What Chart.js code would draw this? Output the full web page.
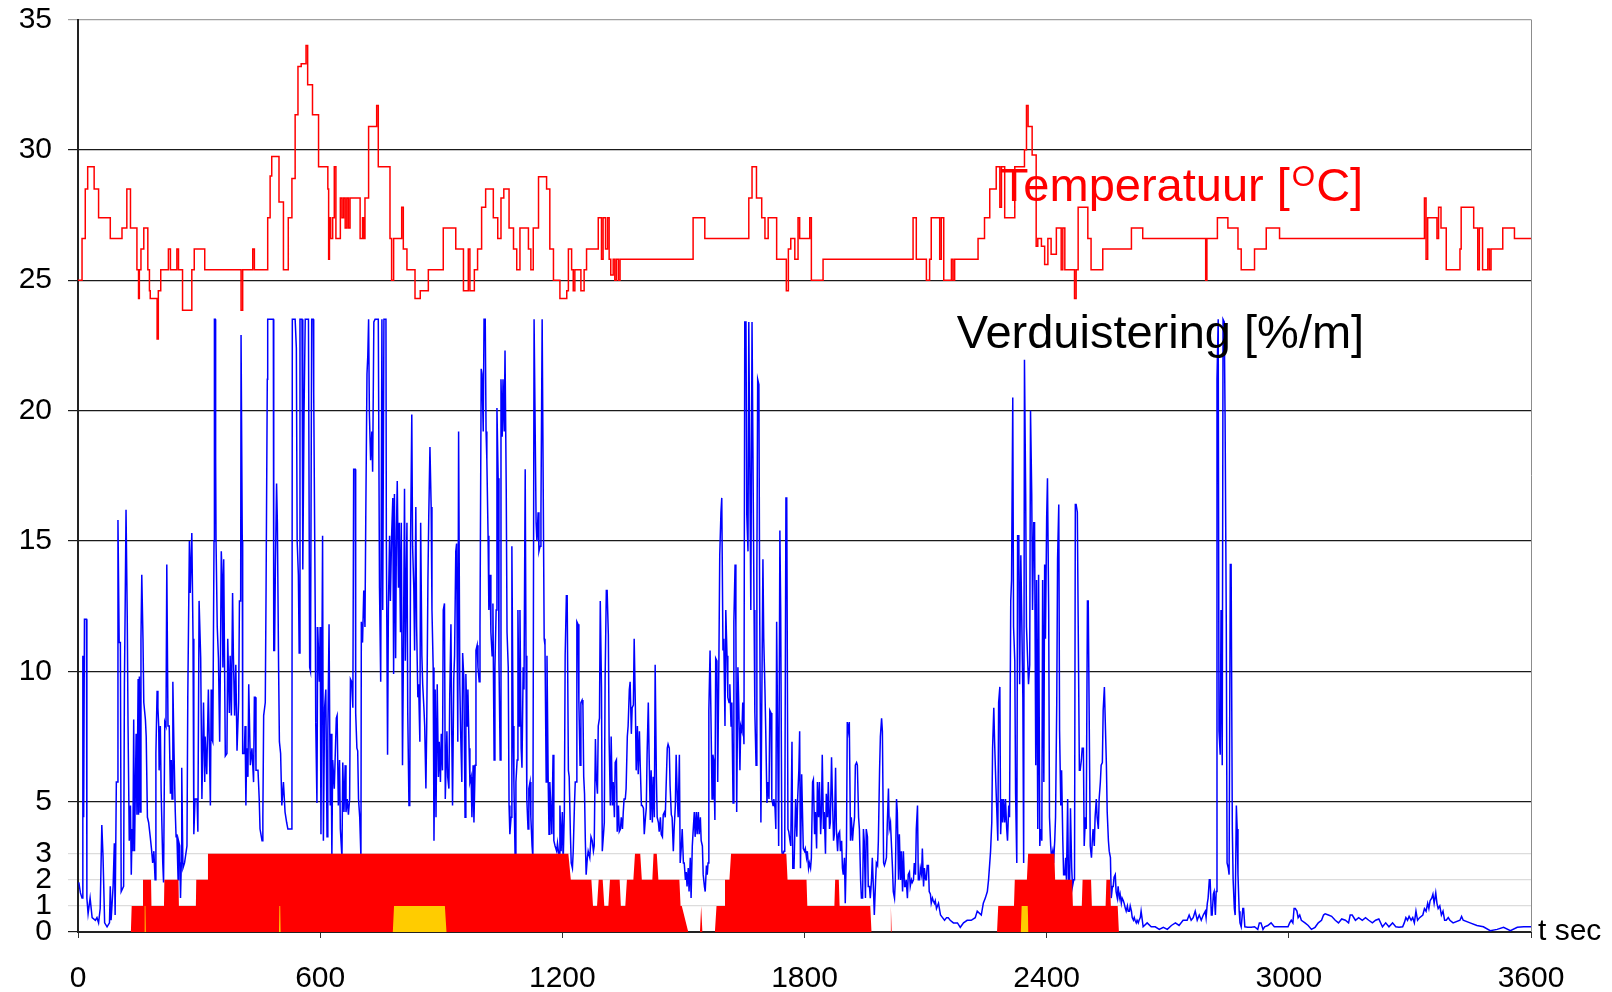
<!doctype html>
<html lang="nl">
  <head>
    <meta charset="utf-8">
    <title>Temperatuur en verduistering</title>
    <style>
      * {
        margin: 0;
        padding: 0;
      }
      body {
        background: #fff;
      }
      .chartBox {
        width: 1612px;
        height: 992px;
      }
    </style>
  </head>
  <body>
    <div class="chartBox">
      <canvas id="fireChart"></canvas>
    </div>

    <script src="https://cdn.jsdelivr.net/npm/chart.js"></script>
    <script>
    // axis ticks
    const xTicks = [0, 600, 1200, 1800, 2400, 3000, 3600];
    const yTicks = [0, 1, 2, 3, 5, 10, 15, 20, 25, 30, 35];

    // temperature [oC]: each value holds from its time until the next one
    const tempTime = [0,10,18,24,40,51,80,109,121,130,146,150,152,156,163,173,177,179,196,199,
      205,224,229,245,249,259,282,288,314,404,408,433,437,470,476,480,498,509,521,530,
      538,545,553,565,569,581,596,619,621,623,626,631,635,639,650,654,658,662,666,670,
      674,699,705,708,711,720,740,744,773,777,782,802,806,815,835,848,868,905,936,955,
      967,971,982,990,1000,1010,1029,1040,1048,1055,1068,1079,1087,1095,1116,1122,1128,1141,1161,1169,
      1178,1194,1211,1215,1223,1227,1231,1246,1254,1260,1289,1297,1301,1307,1312,1316,1320,1326,1330,1334,
      1339,1343,1524,1553,1662,1670,1681,1694,1702,1710,1731,1755,1760,1766,1776,1784,1788,1813,1817,1846,
      2069,2077,2102,2110,2114,2135,2139,2145,2164,2168,2172,2230,2246,2259,2275,2284,2288,2296,2321,2345,
      2350,2354,2364,2374,2378,2387,2395,2403,2411,2424,2436,2440,2445,2469,2473,2478,2502,2510,2539,2610,
      2638,2794,2797,2823,2849,2874,2882,2915,2944,2977,3336,3340,3344,3367,3371,3377,3390,3424,3427,3458,
      3468,3472,3480,3493,3497,3501,3530,3559,3600];
    const tempValue = [25.0,26.6,28.5,29.35,28.5,27.4,26.6,27.0,28.5,27.0,25.4,24.3,25.4,26.2,27.0,25.4,24.6,24.3,22.75,24.6,
      25.4,26.2,25.4,26.2,25.4,23.85,25.4,26.2,25.4,23.85,25.4,26.2,25.4,27.4,29.0,29.75,28.0,25.4,27.4,28.9,
      31.35,33.2,33.3,34.0,32.5,31.35,29.35,28.5,25.8,27.4,26.6,27.4,29.35,26.6,28.15,27.4,28.15,27.0,28.15,27.0,
      28.15,26.6,27.4,26.6,28.15,30.9,31.7,29.35,26.6,25.0,26.6,27.8,26.2,25.4,24.3,24.6,25.4,27.0,26.2,24.6,
      26.2,24.6,25.4,26.2,27.8,28.5,27.4,26.6,28.15,28.5,27.0,26.2,25.4,27.0,26.2,25.4,27.0,28.97,28.5,26.2,
      25.0,24.3,24.6,26.2,25.4,24.6,25.4,24.6,25.4,26.2,27.4,25.8,27.4,26.2,27.4,25.8,25.2,25.8,25.0,25.8,
      25.0,25.8,27.4,26.6,28.15,29.35,28.15,27.4,26.6,27.4,25.8,24.6,26.2,26.6,25.8,27.4,26.6,27.4,25.0,25.8,
      27.4,25.8,25.0,25.8,27.4,25.8,27.4,25.0,25.8,25.0,25.8,26.6,27.4,28.5,29.35,27.8,29.35,27.4,29.35,30.0,
      31.7,30.9,29.8,26.3,26.6,26.3,25.6,26.6,26.0,27.0,25.4,27.0,25.4,24.3,25.4,27.8,26.6,25.4,26.2,27.0,
      26.6,25.0,26.6,27.4,27.0,26.2,25.4,26.2,27.0,26.6,28.15,25.8,27.4,26.6,27.8,27.0,25.4,26.2,27.8,27.0,
      25.4,27.0,25.4,26.2,25.4,26.2,27.0,26.6,26.6];

    // obscuration [%/m], read in blocks of about ten minutes
    const obsTimeA = [2,6,10,12,14,16,21,22,25,30,
      35,43,47,51,55,59,62,66,72,78,
      80,82,87,90,92,95,98,99,102,105,
      107,113,115,117,119,122,124,127,130,132,
      134,136,138,140,144,146,149,150,152,154,
      156,158,161,163,167,169,172,175,179,182,
      185,188,191,193,196,198,200,201,204,206,
      210,212,215,218,220,223,226,229,231,233,
      235,238,241,243,245,248,249,252,254,256,
      257,260,264,270,272,276,278,282,285,287,
      290,295,297,300,304,307,311,314,315,319,
      323,328,330,332,334,337,338,340,341,342,
      345,348,351,353,355,357,359,361,365,369,
      371,375,377,380,383,385,388,391,394,398,
      400,403,404,406,407,408,412,414,416,418,
      421,423,427,431,435,437,439,441,446,449,
      451,456,458,460,464,466,469,470,484,485,
      487,489,492,494,497,499,502,505,509,513,
      517,520,526,530,531,538,541,543,546,548,
      550,555,557,560,563,571,574,576,579,583,
      584,588,589,592];
    const obsValueA = [1.9,1.5,1.3,10.6,4.4,12.0,12.0,1.3,0.7,1.3,
      0.55,0.45,0.55,0.35,0.9,4.1,2.9,0.35,0.2,0.35,
      1.75,0.45,1.75,3.4,0.65,5.75,5.75,15.8,11.1,11.1,
      1.55,1.75,9.5,12.7,16.2,12.1,7.9,3.5,4.85,2.2,
      3.95,3.1,8.15,3.1,7.6,4.5,9.7,4.5,9.8,4.6,
      11.25,13.7,11.25,8.8,8.15,7.5,4.4,4.2,3.65,3.2,
      2.65,3.1,2.0,6.85,9.25,8.6,7.9,6.2,7.9,5.4,
      2.65,1.9,8.05,7.9,14.1,7.9,7.9,5.3,6.6,5.1,
      9.6,6.85,4.6,3.65,3.75,2.0,3.5,3.3,1.3,2.65,
      6.3,2.45,2.65,3.3,9.0,15.0,13.0,15.3,11.25,3.75,
      5.1,5.1,3.85,12.7,10.5,5.1,8.8,5.75,7.5,6.05,
      9.3,4.85,9.3,7.4,7.3,15.0,23.5,23.5,18.2,15.0,
      11.7,10.5,7.3,10.5,14.6,13.7,10.15,14.3,6.75,6.85,
      11.25,8.4,10.6,8.3,13.0,10.6,8.3,10.25,6.95,8.8,
      12.7,12.7,22.9,22.9,15.0,6.85,6.85,7.9,4.85,7.05,
      5.95,9.5,6.4,7.05,5.75,9.0,9.0,6.2,6.2,5.1,
      3.95,3.5,4.4,8.3,8.8,13.2,21.2,23.5,23.5,10.8,
      10.8,13.9,17.2,15.7,10.15,7.3,6.85,4.85,5.75,4.6,
      4.2,3.95,3.95,3.95,23.5,23.5,22.4,15.0,13.7,10.7,
      23.5,23.5,13.9,19.85,23.5,23.5,10.15,10.0,23.5,23.5,
      20.7,11.7,8.05,4.95];

    const obsTimeB = [594,598,600,602,606,608,611,614,617,619,
      622,625,627,629,631,635,637,640,642,645,
      648,650,654,656,659,662,664,667,670,673,
      675,678,681,683,687,688,691,693,695,698,
      701,702,705,708,711,713,716,718,720,722,
      725,728,730,733,736,744,747,750,753,755,
      758,763,764,767,769,772,774,777,780,782,
      784,787,789,791,794,796,799,801,804,806,
      809,811,815,817,820,822,824,827,829,832,
      834,837,839,842,844,847,849,852,854,857,
      859,862,864,867,869,872,875,877,880,882,
      885,887,890,893,895,898,900,903,905,908,
      910,914,916,919,921,924,926,928,931,933,
      936,938,941,943,946,948,951,953,956,959,
      961,964,966,969,971,974,976,979,981,984,
      986,989,991,994,996,999,1001,1004,1006,1009,
      1011,1013,1016,1018,1021,1023,1026,1028,1031,1033,
      1036,1038,1041,1043,1046,1048,1051,1053,1056,1058,
      1061,1063,1066,1068,1070,1073,1075,1078,1080,1083,
      1085,1088,1090,1093,1095,1098,1100,1103,1105,1108,
      1110,1112,1115,1117,1120,1122,1125,1127,1130,1132,
      1135,1137,1140,1142,1145,1147,1150,1152,1155,1157,
      1160,1162,1165,1167,1169,1172,1174,1177,1179,1182,
      1186];
    const obsValueB = [11.7,9.6,11.7,3.75,15.2,3.5,8.6,9.3,3.65,7.6,
      11.8,4.85,7.6,2.85,6.6,5.5,6.6,8.2,8.3,4.85,
      6.6,3.95,2.85,6.5,4.6,6.4,4.6,5.1,4.5,5.1,
      9.7,9.6,8.6,17.75,17.75,8.4,7.05,6.95,5.1,4.4,
      2.85,11.9,11.1,13.1,11.7,15.9,21.4,22.1,23.5,19.85,
      18.1,19.2,17.65,23.4,23.5,23.5,13.2,9.6,23.5,12.35,
      23.5,23.5,15.0,6.8,12.35,15.2,12.7,15.2,16.65,9.9,
      16.8,10.5,15.4,17.3,13.2,15.7,11.5,15.7,6.4,10.15,
      17.0,10.4,15.7,8.4,4.85,4.85,15.0,19.85,14.8,13.2,
      10.8,16.3,11.7,9.0,9.5,7.3,15.7,10.6,9.5,8.6,
      7.9,5.5,7.9,13.5,15.9,18.6,16.3,12.35,10.15,3.5,
      9.3,4.4,9.5,5.95,7.3,5.75,7.6,6.2,12.35,12.6,
      5.1,7.7,5.95,5.5,9.0,11.8,7.7,4.85,9.7,10.6,
      14.6,14.9,7.3,19.2,9.5,7.7,5.75,10.7,9.7,4.4,
      9.9,7.9,9.3,7.05,5.75,5.95,4.4,6.4,4.2,6.4,
      10.8,11.0,10.15,9.6,11.7,21.6,21.4,19.2,23.5,23.5,
      19.2,18.1,15.2,12.35,13.7,11.5,10.6,12.6,6.6,10.15,
      12.35,20.1,17.4,10.4,6.6,21.2,19.0,21.2,19.2,22.3,
      17.0,11.5,10.15,4.85,3.75,4.4,14.8,7.9,5.75,2.85,
      5.75,6.6,12.35,7.9,12.35,7.05,6.3,10.15,9.3,17.75,
      10.6,5.1,3.95,5.5,5.75,4.4,3.3,2.85,23.5,23.5,
      15.7,15.0,16.1,14.6,14.8,16.1,23.5,23.5,11.25,11.0,
      5.75,10.6,5.75,3.75,5.75,4.6,3.75,6.8,3.5,3.3,
      3.1];

    const obsTimeC = [1188,1192,1194,1197,1200,1202,1205,1207,1210,1212,
      1215,1217,1220,1222,1225,1227,1230,1232,1235,1236,
      1239,1241,1244,1246,1249,1251,1253,1255,1257,1259,
      1262,1264,1268,1271,1274,1277,1279,1282,1284,1287,
      1289,1292,1294,1297,1299,1302,1304,1306,1309,1311,
      1314,1316,1319,1321,1324,1326,1329,1331,1334,1336,
      1339,1341,1344,1346,1349,1351,1353,1356,1358,1361,
      1363,1366,1368,1371,1373,1376,1378,1381,1383,1386,
      1388,1391,1393,1396,1398,1401,1403,1406,1408,1410,
      1413,1415,1418,1420,1423,1425,1428,1430,1433,1435,
      1438,1440,1443,1445,1448,1450,1453,1455,1457,1460,
      1462,1465,1467,1470,1472,1475,1477,1480,1482,1485,
      1487,1490,1492,1495,1497,1500,1502,1505,1507,1509,
      1512,1514,1517,1519,1522,1524,1527,1529,1532,1534,
      1537,1539,1542,1544,1547,1549,1552,1554,1557,1559,
      1561,1563,1566,1568,1571,1573,1575,1578,1580,1583,
      1585,1588,1590,1593,1595,1598,1600,1603,1605,1608,
      1610,1613,1615,1618,1620,1623,1625,1628,1630,1632,
      1635,1637,1640,1642,1645,1647,1650,1652,1655,1657,
      1660,1662,1665,1667,1670,1672,1675,1677,1680,1682,
      1684,1687,1689,1692,1694,1697,1699,1702,1704,1707,
      1709,1712,1714,1717,1719,1722,1724,1727,1729,1731,
      1734,1736,1739,1741,1744,1746,1749,1751,1754,1756,
      1759,1761,1764,1766,1769,1771,1774,1776];
    const obsValueC = [3.4,2.85,4.85,3.1,4.6,2.65,4.6,10.6,12.9,12.9,
      6.2,5.95,3.75,2.65,2.45,3.1,4.85,5.75,5.75,11.9,
      11.8,8.8,6.4,8.8,8.9,8.7,5.95,5.3,3.5,2.2,
      2.85,3.1,2.85,3.65,3.5,3.1,3.3,7.4,5.95,5.3,
      7.9,8.2,12.7,9.4,3.1,3.75,4.2,9.7,13.1,13.1,
      11.4,7.3,4.85,7.5,4.85,5.75,4.4,6.5,6.6,3.85,
      4.85,3.85,3.95,4.4,3.95,4.6,5.1,5.1,5.5,7.5,
      7.9,9.3,9.6,7.6,8.6,8.7,11.25,8.6,6.2,7.9,
      6.05,7.7,6.4,4.85,4.85,4.75,3.75,4.4,4.75,6.8,
      8.8,6.8,4.3,6.2,4.2,5.95,4.4,10.25,5.95,4.4,
      4.2,3.85,4.4,3.75,3.65,4.5,4.6,4.4,5.5,7.05,
      7.2,7.05,5.6,4.5,4.4,3.1,3.95,4.85,6.8,5.1,
      4.4,6.8,2.65,3.3,3.95,2.65,2.65,2.0,2.3,1.75,
      2.45,1.55,2.85,1.3,3.3,3.85,4.6,3.65,4.6,3.75,
      4.6,3.75,4.4,3.5,3.3,2.2,1.75,1.55,2.55,2.2,
      2.65,8.5,10.8,10.8,5.1,6.8,6.6,4.3,10.5,10.4,
      5.75,10.6,14.45,16.1,16.65,10.8,11.25,7.9,12.35,10.6,
      9.0,8.8,9.5,7.9,8.8,4.95,11.9,14.1,11.7,4.6,
      10.15,8.8,6.2,7.9,7.7,8.8,7.2,23.4,23.4,16.0,
      14.6,23.4,16.8,12.35,23.4,23.4,12.35,8.4,6.4,13.9,
      21.2,21.0,12.35,4.2,8.4,14.3,11.25,9.3,7.7,4.95,
      5.75,5.1,8.5,8.4,5.1,4.85,5.1,4.75,3.95,11.9,
      6.8,3.3,15.4,12.35,3.1,2.85,3.1,3.1,16.65,16.65,
      3.95,3.85,3.5,3.3,7.3,2.45,2.45,2.45];

    const obsTimeD = [1778,1781,1783,1786,1788,1790,1793,1795,1797,1800,
      1802,1805,1807,1810,1812,1815,1817,1820,1822,1825,
      1827,1830,1832,1835,1837,1840,1842,1844,1847,1849,
      1852,1854,1857,1859,1862,1864,1867,1869,1872,1874,
      1877,1879,1882,1884,1887,1889,1892,1894,1896,1899,
      1901,1904,1906,1909,1911,1914,1916,1919,1921,1924,
      1926,1929,1931,1934,1936,1939,1941,1944,1946,1948,
      1951,1953,1956,1958,1961,1963,1966,1968,1971,1973,
      1976,1978,1981,1983,1986,1988,1991,1993,1996,1998,
      2000,2003,2005,2008,2010,2013,2015,2018,2020,2023,
      2025,2028,2030,2033,2035,2038,2040,2043,2045,2048,
      2050,2052,2055,2057,2060,2062,2065,2067,2070,2072,
      2075,2077,2080,2082,2085,2087,2090,2092,2095,2097,
      2100,2102,2104,2107,2109,2112,2114,2117,2119,2122,
      2124,2127,2132,2137,2142,2147,2152,2156,2161,2169,
      2179,2186,2194,2203,2213,2223,2228,2238,2243,2248,
      2253,2256,2259,2261,2264,2266,2269,2271,2274,2276,
      2279,2281,2284,2286,2289,2291,2293,2296,2298,2301,
      2303,2306,2308,2311,2313,2316,2318,2321,2323,2326,
      2328,2331,2333,2336,2338,2341,2343,2345,2348,2350,
      2353,2355,2358,2360,2363,2365,2368];
    const obsValueD = [5.1,3.65,5.1,6.2,7.7,2.45,6.05,4.6,3.2,3.1,
      3.2,2.85,3.1,2.45,2.65,2.45,2.85,5.75,5.85,3.75,
      4.6,3.2,5.75,4.4,5.75,3.75,4.6,6.8,3.95,4.6,
      3.0,5.3,4.4,5.75,3.95,4.2,6.7,5.3,3.5,3.75,
      6.3,3.95,3.1,3.75,3.85,3.1,3.5,2.45,2.2,2.85,
      1.1,3.3,8.05,7.7,8.05,3.5,4.4,3.5,3.95,4.4,
      6.4,6.5,6.4,4.4,3.95,2.0,1.3,1.3,3.95,3.5,
      1.3,3.95,3.65,1.75,1.75,1.3,2.0,2.85,1.55,0.65,
      1.9,2.65,2.55,3.5,6.2,7.5,8.2,7.7,2.65,2.55,
      2.65,2.85,4.1,5.5,3.95,4.2,3.5,2.45,1.55,1.3,
      2.0,5.1,4.6,2.0,3.75,2.0,3.1,1.55,3.1,1.75,
      1.75,2.0,1.3,2.2,2.3,1.75,2.0,1.9,2.0,2.65,
      2.2,3.95,4.85,2.0,2.0,2.45,2.2,3.2,1.75,2.45,
      2.0,2.0,2.55,2.55,1.55,1.45,1.1,1.3,1.2,1.1,
      1.2,0.9,1.1,0.65,0.55,0.45,0.55,0.55,0.45,0.35,
      0.35,0.18,0.35,0.45,0.45,0.55,0.8,0.65,1.1,1.3,
      1.55,2.0,2.65,3.1,4.2,7.05,8.6,7.3,5.75,4.85,
      3.5,8.8,9.4,3.75,5.1,4.2,5.1,4.2,5.1,3.95,
      3.5,4.85,4.4,12.7,13.5,20.5,11.7,10.4,5.3,2.65,
      15.2,15.2,9.5,14.45,12.35,9.0,2.65,21.95,16.8,11.7,
      10.4,9.5,10.25,20.0,16.8,12.35,15.7];

    const obsTimeE = [2370,2373,2375,2378,2380,2383,2385,2388,2390,2393,
      2395,2397,2400,2402,2405,2407,2410,2412,2415,2417,
      2420,2422,2425,2427,2430,2432,2435,2437,2440,2442,
      2445,2447,2449,2452,2454,2457,2459,2462,2464,2467,
      2469,2471,2473,2476,2478,2481,2483,2486,2488,2491,
      2493,2496,2498,2501,2503,2506,2508,2511,2513,2515,
      2518,2520,2523,2525,2528,2530,2533,2535,2538,2540,
      2543,2545,2548,2550,2553,2555,2558,2560,2563,2565,
      2567,2570,2572,2575,2577,2580,2582,2585,2587,2590,
      2592,2595,2597,2600,2602,2605,2607,2610,2612,2615,
      2617,2619,2622,2624,2627,2629,2632,2634,2637,2639,
      2649,2659,2669,2679,2689,2699,2709,2719,2728,2738,
      2748,2753,2758,2763,2768,2773,2778,2783,2788,2793,
      2795,2798,2800,2803,2805,2808,2810,2813,2815,2818,
      2820,2822,2825,2827,2830,2832,2835,2837,2840,2842,
      2845,2847,2850,2852,2855,2857,2860,2862,2865,2867,
      2870,2872,2874,2877,2879,2882,2886,2888,2891,2898,
      2907,2915,2923,2927,2931,2936,2940,2948,2956,2964];
    const obsValueE = [15.7,6.4,13.5,3.95,13.7,3.3,3.95,3.5,13.5,5.75,
      14.1,11.25,15.9,17.4,12.35,4.4,3.3,2.85,3.1,2.65,
      3.5,4.4,8.8,14.3,16.4,7.7,4.85,6.2,3.5,2.2,
      2.2,2.85,2.0,5.1,2.0,2.0,4.75,2.45,1.75,2.0,
      2.0,16.4,16.4,16.1,12.1,6.2,6.2,6.6,7.05,7.05,
      3.3,4.4,3.95,12.7,12.7,7.05,3.3,2.85,3.5,3.95,
      3.3,4.4,5.1,4.4,3.95,5.1,5.75,6.4,6.5,8.5,
      9.4,8.2,6.4,4.6,3.5,3.1,2.85,1.3,1.75,1.75,
      2.1,2.2,1.55,1.3,1.75,1.3,1.45,1.1,1.3,1.2,
      1.1,0.9,0.8,1.0,0.8,0.8,1.0,0.8,0.55,0.45,
      0.55,0.45,0.35,0.45,0.35,0.45,0.55,0.8,0.45,0.2,
      0.35,0.2,0.2,0.1,0.18,0.1,0.25,0.35,0.25,0.45,
      0.45,0.65,0.45,0.55,0.8,0.45,0.65,0.45,0.65,0.8,
      0.55,1.1,1.3,2.0,2.0,0.65,0.65,1.45,1.55,0.65,
      1.55,21.2,23.5,7.7,6.8,12.35,6.4,23.5,23.4,19.85,
      11.9,2.65,2.45,2.2,14.1,14.1,3.95,2.0,0.9,0.65,
      4.85,3.95,2.2,0.8,0.35,0.2,0.9,0.9,0.2,0.18,
      0.18,0.2,0.1,0.35,0.35,0.1,0.2,0.25,0.35,0.2];

    const obsTimeF = [2980,2998,3002,3006,3010,3013,3016,3020,3023,3027,
      3031,3040,3048,3056,3065,3073,3081,3086,3090,3098,
      3106,3115,3123,3131,3140,3148,3152,3157,3165,3173,
      3182,3190,3198,3207,3215,3223,3232,3240,3248,3257,
      3265,3273,3282,3286,3290,3294,3298,3303,3307,3311,
      3315,3319,3324,3332,3336,3340,3344,3347,3350,3354,
      3357,3360,3364,3367,3370,3374,3378,3382,3386,3390,
      3395,3399,3407,3424,3428,3432,3449,3466,3482,3499,
      3516,3532,3549,3566,3582,3600];
    const obsValueF = [0.2,0.2,0.35,0.45,0.35,0.9,0.9,0.8,0.55,0.65,
      0.45,0.35,0.25,0.1,0.18,0.35,0.45,0.65,0.7,0.65,
      0.6,0.45,0.35,0.5,0.45,0.35,0.65,0.65,0.45,0.55,
      0.45,0.55,0.45,0.35,0.45,0.5,0.2,0.35,0.2,0.35,
      0.2,0.18,0.2,0.35,0.55,0.45,0.6,0.45,0.55,0.35,
      0.8,0.45,0.55,0.65,0.9,0.8,1.1,0.9,1.2,1.3,
      1.45,1.1,1.5,1.1,0.9,1.0,0.65,0.8,0.45,0.45,
      0.55,0.45,0.35,0.45,0.6,0.45,0.35,0.25,0.2,0.05,
      0.1,0.18,0.05,0.18,0.2,0.2];

    // detector level 0..3 (red area) and the yellow level
    const alarmTime = [0,131,133,160,161,181,182,213,214,249,
      250,292,293,320,322,1215,1221,1272,1276,1286,
      1290,1300,1304,1314,1318,1342,1345,1356,1360,1376,
      1380,1393,1397,1423,1426,1434,1438,1490,1493,1496,
      1512,1541,1544,1547,1578,1582,1601,1603,1614,1618,
      1755,1758,1805,1807,1874,1876,1885,1887,1963,1966,
      2012,2014,2016,2277,2280,2319,2321,2351,2354,2419,
      2421,2463,2465,2487,2489,2510,2512,2546,2548,2557,
      2559,2576,2579,3600];
    const alarmLevel = [0,0,1,1,2,2,1,1,2,2,
      1,1,2,2,3,3,2,2,1,1,
      2,2,1,1,2,2,1,1,2,2,
      3,3,2,2,3,3,2,2,1,1,
      0,0,1,0,0,1,1,2,2,3,
      3,2,2,1,1,2,2,1,1,0,
      0,1,0,0,1,1,2,2,3,3,
      2,2,1,1,2,2,1,1,2,2,
      1,1,0,0];
    const yellowTime = [164,165,167,168,498,499,501,502,780,783,909,913,2336,2338,2353,2355];
    const yellowLevel = [0,1,1,0,0,1,1,0,0,1,1,0,0,1,1,0];

    const obsTime = [].concat(obsTimeA, obsTimeB, obsTimeC, obsTimeD, obsTimeE, obsTimeF);
    const obsValue = [].concat(obsValueA, obsValueB, obsValueC, obsValueD, obsValueE, obsValueF);

    function toPoints(times, values) {
      return times.map((t, i) => ({ x: t, y: values[i] }));
    }

    const FONT = '"Liberation Sans", Arial, sans-serif';

    // texts inside the plot, the unit of the time axis and the right frame
    const textPlugin = {
      id: 'chartTexts',
      afterDatasetsDraw(chart) {
        const { ctx, chartArea, scales: { x, y } } = chart;
        ctx.save();
        ctx.strokeStyle = '#8c8c8c';
        ctx.lineWidth = 1;
        ctx.beginPath();
        ctx.moveTo(chartArea.right + 0.5, chartArea.top);
        ctx.lineTo(chartArea.right + 0.5, chartArea.bottom);
        ctx.stroke();

        ctx.textAlign = 'left';
        ctx.textBaseline = 'alphabetic';

        let px = x.getPixelForValue(2284);
        const py = y.getPixelForValue(28.05);
        ctx.fillStyle = '#ff0000';
        ctx.font = '47px ' + FONT;
        ctx.fillText('Temperatuur [', px, py);
        px += ctx.measureText('Temperatuur [').width + 2;
        ctx.font = '30px ' + FONT;
        ctx.fillText('O', px, py - 15);
        px += ctx.measureText('O').width + 1;
        ctx.font = '47px ' + FONT;
        ctx.fillText('C]', px, py);

        ctx.fillStyle = '#000';
        ctx.fillText('Verduistering [%/m]', x.getPixelForValue(2177), y.getPixelForValue(22.4));

        ctx.font = '30px ' + FONT;
        ctx.fillText('t sec', chartArea.right + 7, y.getPixelForValue(0) + 8);
        ctx.restore();
      }
    };

    const data = {
      datasets: [{
        label: 'niveau geel',
        data: toPoints(yellowTime, yellowLevel),
        order: 0,
        fill: 'origin',
        backgroundColor: '#ffcc00',
        borderColor: 'rgba(0,0,0,0)',
        borderWidth: 0,
        pointRadius: 0
      }, {
        label: 'niveau',
        data: toPoints(alarmTime, alarmLevel),
        order: 1,
        fill: 'origin',
        backgroundColor: '#ff0000',
        borderColor: 'rgba(0,0,0,0)',
        borderWidth: 0,
        pointRadius: 0
      }, {
        label: 'Verduistering [%/m]',
        data: toPoints(obsTime, obsValue),
        order: 2,
        fill: false,
        borderColor: '#0000ff',
        borderWidth: 1.5,
        pointRadius: 0
      }, {
        label: 'Temperatuur [oC]',
        data: toPoints(tempTime, tempValue),
        order: 3,
        fill: false,
        stepped: true,
        borderColor: '#ff0000',
        borderWidth: 1.5,
        pointRadius: 0
      }]
    };

    const config = {
      type: 'line',
      data,
      options: {
        responsive: true,
        maintainAspectRatio: false,
        animation: false,
        devicePixelRatio: 1,
        layout: { padding: { top: 19.5, right: 81, left: 0, bottom: 0 } },
        plugins: {
          legend: { display: false },
          tooltip: { enabled: false }
        },
        scales: {
          x: {
            type: 'linear',
            min: 0,
            max: 3600,
            z: 1,
            afterBuildTicks: s => { s.ticks = xTicks.map(v => ({ value: v })); },
            afterFit: s => { s.height = 60; },
            grid: { drawOnChartArea: false, drawTicks: true, tickLength: 6, color: '#333', lineWidth: 1 },
            border: { display: true, color: '#222', width: 2 },
            ticks: {
              color: '#000',
              font: { family: FONT, size: 30 },
              padding: 23,
              maxRotation: 0,
              autoSkip: false,
              callback: v => String(v)
            }
          },
          y: {
            type: 'linear',
            min: 0,
            max: 35,
            afterBuildTicks: s => { s.ticks = yTicks.map(v => ({ value: v })); },
            afterFit: s => {
              s.width = 78;
              // let the layout padding alone decide where the plot starts
              s.paddingTop = 0;
              s.paddingBottom = 0;
            },
            grid: {
              drawTicks: true,
              tickLength: 10,
              lineWidth: 1.2,
              color: c => {
                const v = c.tick ? c.tick.value : 0;
                if (v === 1 || v === 2 || v === 3) return '#dcdcdc';
                if (v === 35) return '#a0a0a0';
                return '#1a1a1a';
              }
            },
            border: { display: true, color: '#222', width: 2 },
            ticks: {
              color: '#000',
              font: { family: FONT, size: 30 },
              padding: 16,
              autoSkip: false,
              callback: v => String(v)
            }
          }
        }
      },
      plugins: [textPlugin]
    };

    const fireChart = new Chart(document.getElementById('fireChart'), config);
    </script>
  </body>
</html>
